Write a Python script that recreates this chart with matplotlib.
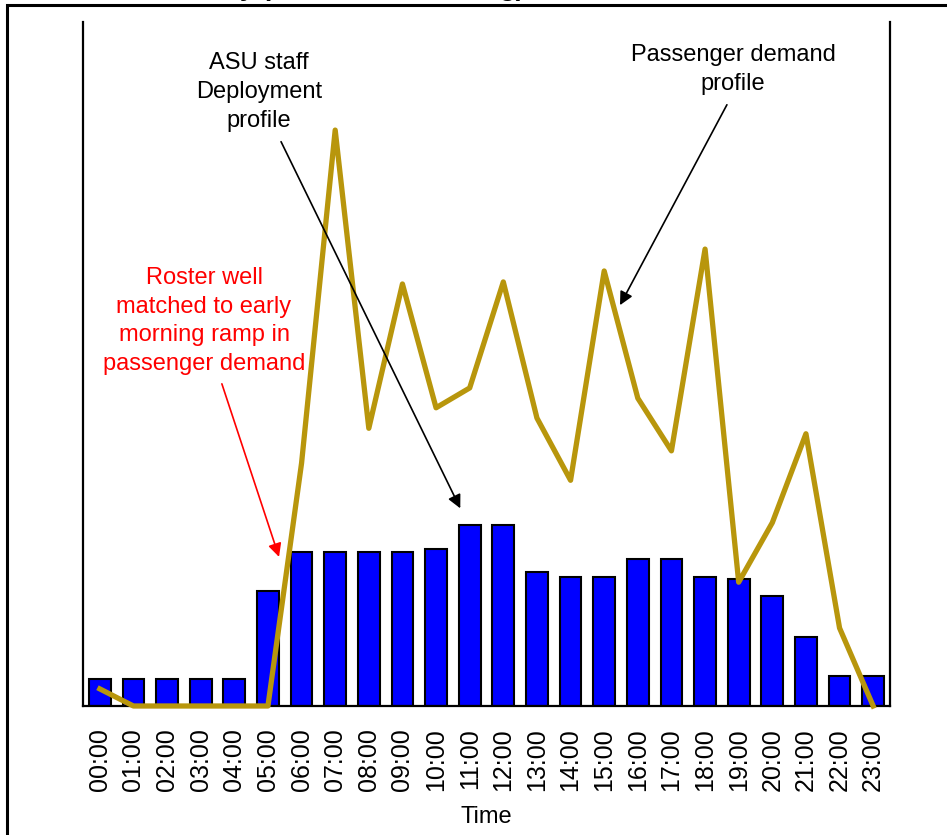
import matplotlib
matplotlib.use("Agg")
import matplotlib.pyplot as plt
from matplotlib.patches import Rectangle

plt.rcParams["font.family"] = ["Liberation Sans", "DejaVu Sans"]

hours = ["%02d:00" % h for h in range(24)]
# ASU staff on duty (relative scale, 0-100)
staff = [3.9, 3.9, 3.9, 3.9, 3.9, 16.8, 22.5, 22.5, 22.5, 22.5, 23.0, 26.5,
         26.5, 19.6, 18.9, 18.9, 21.5, 21.5, 18.9, 18.6, 16.1, 10.1, 4.4, 4.4]
# passenger demand (relative scale, 0-100)
demand = [2.5, 0, 0, 0, 0, 0, 35.5, 84.2, 40.6, 61.7, 43.6, 46.5,
          62.0, 42.1, 33.0, 63.6, 45.0, 37.3, 66.8, 18.1, 26.8, 39.8, 11.4, 0]

gold = "#B8960C"

fig = plt.figure(figsize=(9.47, 8.35), dpi=100)
ax = fig.add_axes([83 / 947, 129 / 835, 807 / 947, 684 / 835])

x = list(range(len(hours)))
ax.bar(x, staff, width=0.65, color="#0000FF", edgecolor="black", linewidth=1.5, zorder=2)
ax.plot(x, demand, color=gold, linewidth=3.8, zorder=3, clip_on=False)

ax.set_xlim(-0.5, 23.5)
ax.set_ylim(0, 100)
ax.set_yticks([])
ax.set_xticks(x)
ax.set_xticklabels(hours, rotation=90, fontsize=18)
ax.tick_params(axis="x", length=0, pad=16)
ax.set_xlabel("Time", fontsize=17, labelpad=11)

ax.spines["top"].set_visible(False)
for s in ["left", "right", "bottom"]:
    ax.spines[s].set_linewidth(1.6)

# callouts
ax.text(4.73, 89.8, "ASU staff\nDeployment\nprofile", ha="center", va="center",
        fontsize=17, linespacing=1.4)
ax.annotate("", xy=(10.72, 28.9), xytext=(5.39, 82.5),
            arrowprops=dict(arrowstyle="-|>", color="black", lw=1.2, mutation_scale=20,
                            shrinkA=0, shrinkB=0))

ax.text(18.83, 93.0, "Passenger demand\nprofile", ha="center", va="center",
        fontsize=17, linespacing=1.4)
ax.annotate("", xy=(15.47, 58.6), xytext=(18.65, 87.9),
            arrowprops=dict(arrowstyle="-|>", color="black", lw=1.2, mutation_scale=20,
                            shrinkA=0, shrinkB=0))

ax.text(3.10, 56.3, "Roster well\nmatched to early\nmorning ramp in\npassenger demand",
        ha="center", va="center", fontsize=17, color="red", linespacing=1.38)
ax.annotate("", xy=(5.33, 21.8), xytext=(3.63, 47.1),
            arrowprops=dict(arrowstyle="-|>", color="red", lw=1.2, mutation_scale=20,
                            shrinkA=0, shrinkB=0))

# slide title sits mostly above the visible area
fig.text(155 / 947, 1.0 + 4 / 835, "Monday (Standard Rostering)", fontsize=19,
         fontweight="bold", ha="left", va="baseline")

# outer frame
fig.patches.append(Rectangle((7 / 947, -0.1), 2.0, (830 / 835) + 0.1,
                             transform=fig.transFigure, fill=False,
                             edgecolor="black", linewidth=2.2))

fig.savefig("out.png", dpi=100)
